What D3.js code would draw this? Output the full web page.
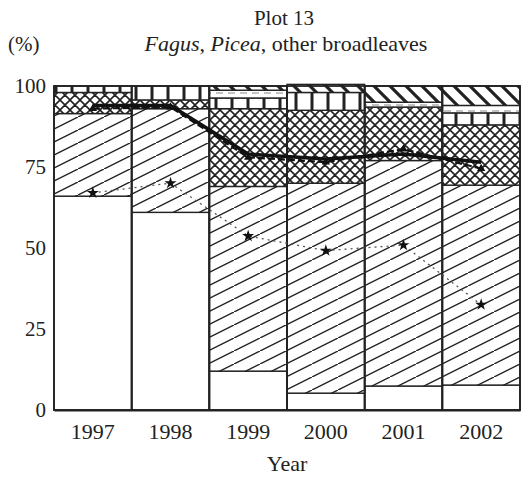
<!DOCTYPE html>
<html>
<head>
<meta charset="utf-8">
<script src="https://cdn.jsdelivr.net/npm/d3@7"></script>
<style>
  body { margin: 0; background: #fff; }
  svg { display: block; }
  text { font-family: "Liberation Serif", "DejaVu Serif", serif; fill: #222; }
</style>
</head>
<body>
<svg id="chart" width="532" height="478"></svg>
<script>
// Species shares per survey year (%), stacked from the ground up
const years = ["1997", "1998", "1999", "2000", "2001", "2002"];
const openShare      = [66, 61, 12, 5.2, 7.4, 7.7];
const slashShare     = [25.5, 32, 57, 64.8, 69.6, 61.7];
const crossShare     = [6.5, 2.7, 24, 22.5, 16.5, 18.6];
const gridShare      = [2, 4.3, 3.3, 5.5, 0, 3.7];
const bandShare      = [0, 0, 2.4, 0, 1.5, 2.3];
const backslashShare = [0, 0, 1.3, 2.5, 5, 6];

// Overlaid trend lines (%)
const trendSolid  = [94, 94, 79, 77.5, 79, 76.5];
const trendDashed = [93, 93.5, 78, 76.5, 80.5, 74.5];
const trendDotted = [67, 70, 53.7, 49.2, 50.9, 32.5];

const yTicks = [0, 25, 50, 75, 100];
const titleText = "Plot 13";
const unitText = "(%)";
const xTitle = "Year";

const layerKeys = ["open", "slash", "cross", "grid", "band", "backslash"];
const rows = years.map((yr, i) => ({
  year: yr,
  open: openShare[i], slash: slashShare[i], cross: crossShare[i],
  grid: gridShare[i], band: bandShare[i], backslash: backslashShare[i]
}));

const svg = d3.select("#chart");
const ink = "#222";

const x = d3.scaleBand().domain(years).range([54, 520]).padding(0);
const y = d3.scaleLinear().domain([0, 100]).range([410, 86]);

// Fill patterns
const defs = svg.append("defs");
function pattern(id, w, h, draw) {
  const p = defs.append("pattern").attr("id", id)
    .attr("patternUnits", "userSpaceOnUse").attr("width", w).attr("height", h);
  p.append("rect").attr("width", w).attr("height", h).attr("fill", "#fff");
  draw(p);
}
pattern("p-slash", 26, 13, p => {
  p.append("path").attr("d", "M-26,26 L26,0 M0,13 L26,0 M0,13 L52,-13 M-13,19.5 L39,-6.5")
    .attr("stroke", ink).attr("stroke-width", 1.4).attr("fill", "none");
});
pattern("p-cross", 10, 10, p => {
  p.append("path").attr("d", "M0,0 L10,10 M10,0 L0,10 M-5,5 L5,-5 M5,15 L15,5 M-5,5 L5,15 M5,-5 L15,5")
    .attr("stroke", ink).attr("stroke-width", 1.6).attr("fill", "none");
});
pattern("p-grid", 16, 40, p => {
  p.append("path").attr("d", "M8,0 L8,40")
    .attr("stroke", ink).attr("stroke-width", 3).attr("fill", "none");
});
pattern("p-band", 12, 6, p => {
  p.append("path").attr("d", "M0,3 L7,3")
    .attr("stroke", "#888").attr("stroke-width", 1).attr("fill", "none");
});
pattern("p-backslash", 16, 16, p => {
  p.append("path").attr("d", "M0,0 L16,16 M-8,8 L8,24 M8,-8 L24,8")
    .attr("stroke", ink).attr("stroke-width", 3.2).attr("fill", "none");
});

const fills = {
  open: "#fff", slash: "url(#p-slash)", cross: "url(#p-cross)",
  grid: "url(#p-grid)", band: "url(#p-band)", backslash: "url(#p-backslash)"
};

const series = d3.stack().keys(layerKeys)(rows);

const layers = svg.append("g").attr("class", "layers");
series.forEach(s => {
  layers.append("g").selectAll("rect")
    .data(s.filter(d => d[1] - d[0] > 0))
    .join("rect")
    .attr("x", d => x(d.data.year))
    .attr("width", x.bandwidth())
    .attr("y", d => y(d[1]))
    .attr("height", d => y(d[0]) - y(d[1]))
    .attr("fill", fills[s.key])
    .attr("stroke", ink)
    .attr("stroke-width", 1.4);
});

// Bar frames
svg.append("g").selectAll("rect")
  .data(years)
  .join("rect")
  .attr("x", d => x(d))
  .attr("width", x.bandwidth())
  .attr("y", y(100))
  .attr("height", y(0) - y(100))
  .attr("fill", "none")
  .attr("stroke", ink)
  .attr("stroke-width", 1.8);

// Trend lines at bar centres
const cx = d => x(d) + x.bandwidth() / 2;
const lineGen = vals => d3.line().x((d, i) => cx(years[i])).y(d => y(d))(vals);

svg.append("path").attr("d", lineGen(trendDotted))
  .attr("fill", "none").attr("stroke", "#555").attr("stroke-width", 1.3)
  .attr("stroke-dasharray", "2,4");
svg.append("g").selectAll("path")
  .data(trendDotted)
  .join("path")
  .attr("transform", (d, i) => `translate(${cx(years[i])},${y(d)})`)
  .attr("d", d3.symbol(d3.symbolStar, 45))
  .attr("fill", "#111");

svg.append("path").attr("d", lineGen(trendDashed))
  .attr("fill", "none").attr("stroke", "#111").attr("stroke-width", 2.2)
  .attr("stroke-dasharray", "7,3");
svg.append("g").selectAll("path")
  .data(trendDashed)
  .join("path")
  .attr("transform", (d, i) => `translate(${cx(years[i])},${y(d)})`)
  .attr("d", d3.symbol(d3.symbolTriangle, 30))
  .attr("fill", "#111");

svg.append("path").attr("d", lineGen(trendSolid))
  .attr("fill", "none").attr("stroke", "#111").attr("stroke-width", 3.5)
  .attr("stroke-linejoin", "round");

// Axes
const yAxis = svg.append("g").attr("transform", "translate(46,0)")
  .call(d3.axisLeft(y).tickValues(yTicks).tickSize(0).tickPadding(0));
yAxis.select(".domain").remove();
yAxis.selectAll("text").attr("font-size", 21).attr("font-family", "Liberation Serif").attr("fill", ink);

const xAxis = svg.append("g").attr("transform", `translate(0,${y(0)})`)
  .call(d3.axisBottom(x).tickSize(0).tickPadding(13));
xAxis.select(".domain").attr("stroke", ink).attr("stroke-width", 1.8);
xAxis.selectAll("text").attr("font-size", 22).attr("font-family", "Liberation Serif").attr("fill", ink);

// Titles
svg.append("text").attr("x", 284).attr("y", 25).attr("text-anchor", "middle")
  .attr("font-size", 21).text(titleText);
const sub = svg.append("text").attr("x", 286).attr("y", 51).attr("text-anchor", "middle")
  .attr("font-size", 22);
sub.append("tspan").attr("font-style", "italic").text("Fagus");
sub.append("tspan").text(", ");
sub.append("tspan").attr("font-style", "italic").text("Picea");
sub.append("tspan").text(", other broadleaves");

svg.append("text").attr("x", 8).attr("y", 51).attr("font-size", 21).text(unitText);
svg.append("text").attr("x", 287).attr("y", 471).attr("text-anchor", "middle")
  .attr("font-size", 22).text(xTitle);
</script>
</body>
</html>
